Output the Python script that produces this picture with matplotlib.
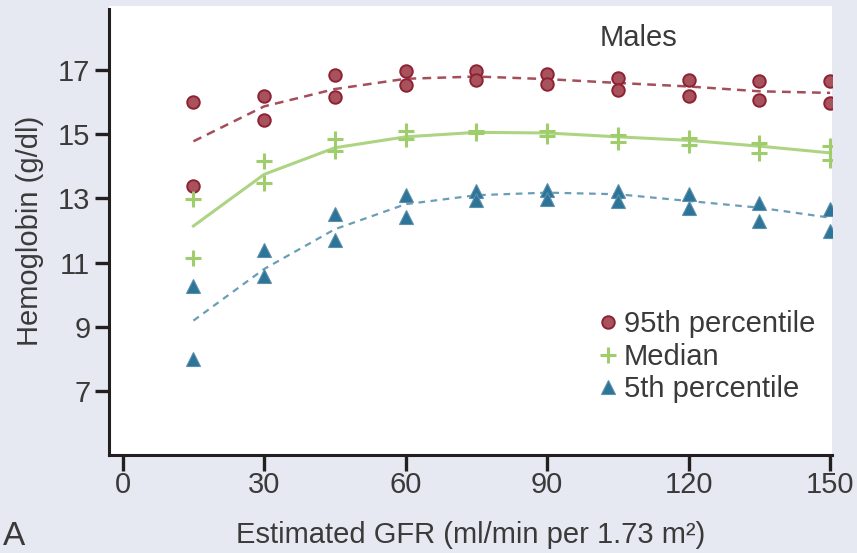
import matplotlib
matplotlib.use("Agg")
import matplotlib.pyplot as plt

# hemoglobin percentiles by eGFR, males (two survey groups per point) + smoothed fits
gfr = [15, 30, 45, 60, 75, 90, 105, 120, 135, 150]
p95_a = [16.02, 16.18, 16.85, 16.98, 16.98, 16.88, 16.75, 16.70, 16.65, 16.65]
p95_b = [13.39, 15.43, 16.15, 16.55, 16.68, 16.58, 16.39, 16.18, 16.08, 15.98]
med_a = [12.97, 14.16, 14.84, 15.09, 15.09, 15.09, 14.99, 14.87, 14.73, 14.63]
med_b = [11.13, 13.49, 14.47, 14.84, 15.03, 14.94, 14.75, 14.65, 14.42, 14.21]
p5_a = [10.28, 11.40, 12.51, 13.10, 13.22, 13.26, 13.23, 13.13, 12.87, 12.68]
p5_b = [8.00, 10.59, 11.70, 12.43, 12.95, 12.99, 12.92, 12.71, 12.30, 11.99]
p95_fit = [14.78, 15.87, 16.41, 16.73, 16.80, 16.72, 16.60, 16.49, 16.34, 16.29]
med_fit = [12.14, 13.75, 14.58, 14.92, 15.06, 15.04, 14.92, 14.81, 14.63, 14.42]
p5_fit = [9.19, 10.80, 12.04, 12.82, 13.10, 13.18, 13.13, 12.92, 12.71, 12.40]
xticks = [0, 30, 60, 90, 120, 150]
yticks = [7, 9, 11, 13, 15, 17]

plt.rcParams.update({"font.family": "Liberation Sans", "font.size": 21,
                     "text.color": "#3a3a3a", "xtick.color": "#231f20",
                     "ytick.color": "#231f20", "xtick.labelcolor": "#3a3a3a",
                     "ytick.labelcolor": "#3a3a3a", "axes.labelcolor": "#3a3a3a"})
RED, GRN, BLU = "#8e2231", "#9fcd6c", "#2c7498"

fig = plt.figure(figsize=(8.57, 5.53), dpi=100, facecolor="#e6e9f1")
ax = fig.add_axes([0.1272, 0.1772, 0.8436, 0.812])
ax.set_facecolor("white")

ax.plot(gfr, p95_fit, color=RED, lw=1.8, ls=(0, (3.5, 2.5)), alpha=0.8, zorder=2)
ax.plot(gfr, med_fit, color=GRN, lw=2.2, alpha=0.85, zorder=2)
ax.plot(gfr, p5_fit, color=BLU, lw=1.6, ls=(0, (3, 2.5)), alpha=0.7, zorder=2)

ax.plot(gfr + gfr, p95_a + p95_b, "o", ms=9, mfc="#a8525e", mec=RED, mew=1.4,
        ls="none", label="95th percentile", zorder=3)
ax.plot(gfr + gfr, med_a + med_b, "+", ms=11, mew=2.2, color=GRN,
        ls="none", label="Median", zorder=3)
ax.plot(gfr + gfr, p5_a + p5_b, "^", ms=10, color=BLU, mec="#5d8fab", mew=0.8,
        ls="none", label="5th percentile", zorder=3)

ax.set_xlim(-2.9, 150.4)
ax.set_ylim(5, 19)
ax.set_xticks(xticks)
ax.set_yticks(yticks)
for s in ("top", "right"):
    ax.spines[s].set_visible(False)
for s in ("left", "bottom"):
    ax.spines[s].set_linewidth(2.2)
    ax.spines[s].set_color("#231f20")
ax.spines["left"].set_bounds(5, 18.9)
ax.tick_params(axis="y", length=10, width=2.4, pad=3.5)
ax.tick_params(axis="x", length=11.5, width=2.4, pad=0)

ax.set_ylabel("Hemoglobin (g/dl)", labelpad=10)
ax.set_xlabel("Estimated GFR (ml/min per 1.73 m²)", labelpad=16)
ax.text(101.2, 18.0, "Males", ha="left", va="center")

ax.legend(loc="upper left", bbox_to_anchor=(0.6736, 0.322), frameon=False,
          numpoints=1, handlelength=0.8, handletextpad=0.15, labelspacing=0.15,
          borderpad=0, borderaxespad=0)
fig.text(0.004, 0.001, "A", ha="left", va="bottom", fontsize=24)

fig.savefig("out.png", dpi=100, facecolor=fig.get_facecolor())
